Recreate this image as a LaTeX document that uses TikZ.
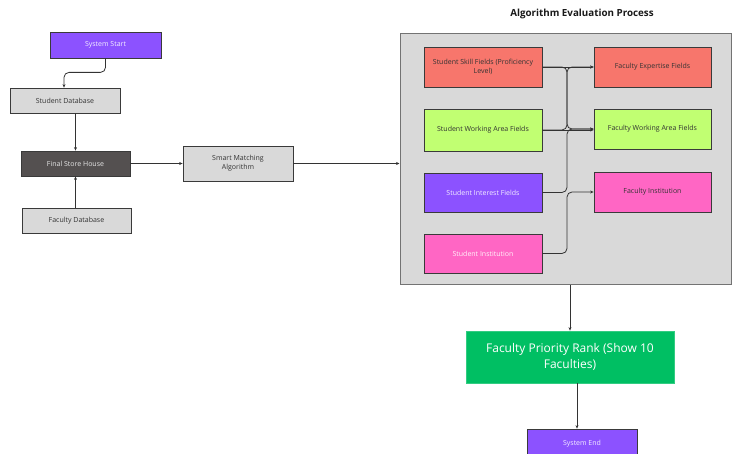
\documentclass[tikz,border=0pt]{standalone}
\usepackage{fontspec}
\setmainfont{Open Sans}
\usetikzlibrary{arrows.meta}
\definecolor{cpurple}{HTML}{8C52FF}
\definecolor{csalmon}{HTML}{F7766C}
\definecolor{clime}{HTML}{C1FF72}
\definecolor{cpink}{HTML}{FF66C4}
\definecolor{cdark}{HTML}{545050}
\definecolor{clgray}{HTML}{D9D9D9}
\definecolor{cgreen}{HTML}{00BF63}
\definecolor{cborder}{HTML}{3A3A3A}
\definecolor{cline}{HTML}{333333}
\begin{document}
\begin{tikzpicture}[x=1pt,y=-1pt,
  box/.style={draw=cborder, line width=0.8pt, inner sep=1pt, align=center, font=\fontsize{7}{9}\selectfont, text=black!80},
  arr/.style={draw=cline, line width=0.8pt, -{Stealth[length=3.5pt,width=3pt]}},
  plain/.style={draw=cline, line width=0.8pt}]
\useasboundingbox (0,0) rectangle (732,454);
% left side
\node[box, fill=cpurple, text=white!90!cpurple, minimum width=111pt, minimum height=26pt] (start) at (105.5,45) {System Start};
\node[box, fill=clgray, minimum width=110pt, minimum height=25pt] (sdb) at (65,100.5) {Student Database};
\node[box, fill=cdark, text=white!90!black, minimum width=109pt, minimum height=25pt] (final) at (75.5,163.5) {Final Store House};
\node[box, fill=clgray, minimum width=109pt, minimum height=25pt] (fdb) at (76.5,220.5) {Faculty Database};
\node[box, fill=clgray, minimum width=110pt, minimum height=35pt] (smart) at (238,163.5) {Smart Matching\\Algorithm};
% evaluation area
\node[draw=black!55, line width=1pt, fill=clgray, minimum width=331pt, minimum height=251pt, inner sep=0pt] (evalbox) at (565.5,159.5) {};
\node[font=\bfseries\fontsize{9.8}{11}\selectfont, text=black!90] (title) at (582,14) {Algorithm Evaluation Process};
\node[box, fill=csalmon, minimum width=118pt, minimum height=40pt] (skill) at (483,67) {Student Skill Fields (Proficiency\\Level)};
\node[box, fill=csalmon, minimum width=117pt, minimum height=40pt] (fexp) at (652.5,67) {Faculty Expertise Fields};
\node[box, fill=clime, minimum width=118pt, minimum height=42pt] (swork) at (483,130) {Student Working Area Fields};
\node[box, fill=clime, minimum width=117pt, minimum height=40pt] (fwork) at (652.5,129) {Faculty Working Area Fields};
\node[box, fill=cpurple, text=white!90!cpurple, minimum width=118pt, minimum height=39pt] (sint) at (483,192.5) {Student Interest Fields};
\node[box, fill=cpink, minimum width=117pt, minimum height=40pt] (finst) at (652.5,192) {Faculty Institution};
\node[box, fill=cpink, text=white!92!cpink, minimum width=118pt, minimum height=39pt] (sinst) at (483,253.5) {Student Institution};
% bottom
\node[box, draw=cgreen!80!white, fill=cgreen, text=white, font=\fontsize{12}{16}\selectfont, minimum width=208pt, minimum height=52pt] (prio) at (570,357) {Faculty Priority Rank (Show 10\\Faculties)};
\node[box, fill=cpurple, text=white!90!cpurple, minimum width=110pt, minimum height=29pt] (end) at (582,443.5) {System End};
\coordinate (trunk) at (567,0);
% connectors left
\draw[arr, rounded corners=5pt] (start.south) -- ++(0,14) -| ([xshift=-1pt]sdb.north);
\draw[arr] (final.north |- sdb.south) -- (final.north);
\draw[arr] (final.south |- fdb.north) -- (final.south);
\draw[arr] (final.east) -- (smart.west);
\draw[arr] (smart.east) -- (smart.east -| evalbox.west);
% connectors in evaluation
\draw[arr] (skill.east) -- (fexp.west);
\draw[arr] (swork.east) -- (swork.east -| fwork.west);
\draw[arr, rounded corners=5pt] (skill.east) -| (trunk |- fwork.west) -- (fwork.west);
\draw[arr, rounded corners=5pt] (swork.east) -| (trunk |- fexp.west) -- (fexp.west);
\draw[arr, rounded corners=5pt] (sint.east) -| (trunk |- fwork.west) -- (fwork.west);
\draw[arr, rounded corners=5pt] (sinst.east) -| (trunk |- finst.west) -- (finst.west);
% connectors bottom
\draw[arr] (prio.north |- evalbox.south) -- (prio.north);
\draw[arr] ([xshift=-5pt]end.north |- prio.south) -- ([xshift=-5pt]end.north);
\end{tikzpicture}
\end{document}
